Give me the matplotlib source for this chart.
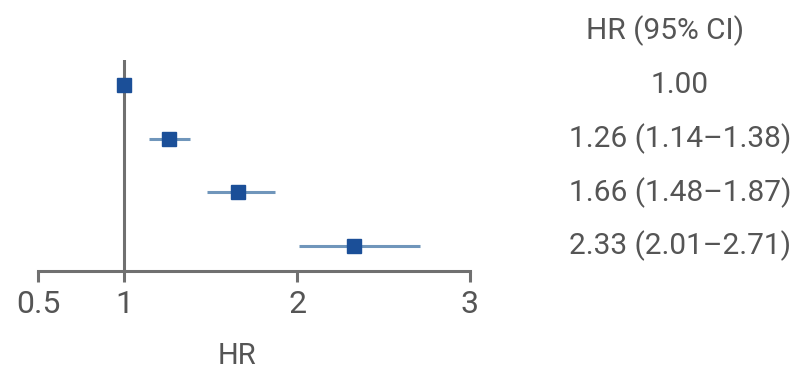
import matplotlib.pyplot as plt
import matplotlib.transforms as mtransforms

# Hazard ratios with 95% CI, one row per group
hr = [1.00, 1.26, 1.66, 2.33]
lo = [1.00, 1.14, 1.48, 2.01]
hi = [1.00, 1.38, 1.87, 2.71]
labels = ['1.00', '1.26 (1.14\u20131.38)', '1.66 (1.48\u20131.87)', '2.33 (2.01\u20132.71)']
rows = [0, 1, 2, 3]
xticks = [0.5, 1, 2, 3]
xticklabels = ['0.5', '1', '2', '3']

plt.rcParams['font.family'] = ['Roboto', 'DejaVu Sans']
txtcol = '#555555'
axcol = '#707070'

fig = plt.figure(figsize=(8.03, 3.73), dpi=100)
ax = fig.add_axes([38/803, 1-271/373, 432/803, 211/373])

# reference line at HR = 1
ax.axvline(1, color=axcol, lw=2.2, zorder=1)

for y, h, l, u in zip(rows, hr, lo, hi):
    if u > l:
        ax.plot([l, u], [y, y], color='#7096bb', lw=2.2, zorder=2, solid_capstyle='butt')
    ax.plot(h, y, marker='s', ms=9.5, color='#1b4f98', mec='#1b4f98', zorder=3)

ax.set_xlim(0.5, 3)
ax.set_ylim(3.47, -0.47)
ax.set_xticks(xticks)
ax.set_xticklabels(xticklabels)
ax.set_yticks([])
for s in ['top', 'right', 'left']:
    ax.spines[s].set_visible(False)
ax.spines['bottom'].set_color(axcol)
ax.spines['bottom'].set_linewidth(2.2)
ax.tick_params(axis='x', direction='out', length=8, width=2.2, color=axcol,
               labelsize=23, labelcolor=txtcol, pad=6)
ax.set_xlabel('HR', fontsize=21, color=txtcol)
ax.xaxis.set_label_coords(0.46, -0.335)

# right-hand column of estimates
tr = mtransforms.blended_transform_factory(fig.transFigure, ax.transData)
ax.text(665/803, -1.02, 'HR (95% CI)', transform=tr, ha='center', va='center',
        fontsize=21.5, color=txtcol, clip_on=False)
for y, t in zip(rows, labels):
    ax.text(680/803, y, t, transform=tr, ha='center', va='center',
            fontsize=21.5, color=txtcol, clip_on=False)

plt.savefig('out.png', dpi=100)
